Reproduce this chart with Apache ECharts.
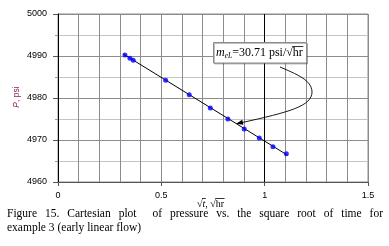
<!DOCTYPE html>
<html>
<head>
<meta charset="utf-8">
<style>html,body{margin:0;padding:0;background:#fff;}#c{width:389px;height:246px;}</style>
<script src="https://cdn.jsdelivr.net/npm/echarts@6/dist/echarts.min.js"></script>
</head>
<body>
<div id="c"></div>
<script>
// data
const sqrtT = [0.324, 0.348, 0.364, 0.521, 0.635, 0.737, 0.822, 0.901, 0.974, 1.040, 1.105];
const pressure = [4990.24, 4989.45, 4988.98, 4984.2, 4980.8, 4977.6, 4975.0, 4972.6, 4970.5, 4968.4, 4966.7];
const trendX = [0.315, 1.11];
const trendY = [4990.5, 4966.4];
const xTicks = [0, 0.5, 1, 1.5];
const yTicks = [4960, 4970, 4980, 4990, 5000];
const captionLine1 = "Figure 15. Cartesian plot  of pressure vs. the square root of time for";
const captionLine2 = "example 3 (early linear flow)";
const slopeText = "=30.71 psi/";

const serif = "'Liberation Serif','Times New Roman',serif";
const sans = "'Liberation Sans',Arial,sans-serif";
const cv = document.createElement('canvas').getContext('2d');
function tw(t, size, italic, fam) { cv.font = (italic ? 'italic ' : '') + size + 'px ' + (fam || "'Liberation Serif'"); return cv.measureText(t).width; }

const chart = echarts.init(document.getElementById('c'), null, {renderer: 'canvas'});
const graphics = [];

// x axis name: √t, √hr
(function () {
  let x = 197, y = 204, fs = 10;
  const parts = [['√', false, false], ['t', true, true], [', ', false, false], ['√', false, false], ['hr', false, true]];
  parts.forEach(p => {
    const w = tw(p[0], fs, p[1]);
    graphics.push({type: 'text', x: x, y: y, style: {text: p[0], font: (p[1] ? 'italic ' : '') + fs + 'px ' + serif, fill: '#000', verticalAlign: 'middle'}});
    if (p[2]) graphics.push({type: 'line', shape: {x1: x - 0.5, y1: y - 5.5, x2: x + w + 0.5, y2: y - 5.5}, style: {stroke: '#000', lineWidth: 0.8}});
    x += w;
  });
})();

// y axis name
graphics.push({type: 'text', x: 17, y: 97, rotation: Math.PI / 2, style: {
  text: '{p|P}{r|, psi}', align: 'center', verticalAlign: 'middle',
  rich: {p: {fontFamily: sans, fontStyle: 'italic', fontSize: 8.5, fill: '#8a2060'}, r: {fontFamily: sans, fontSize: 8.5, fill: '#8a2060'}}
}});

// annotation box
graphics.push({type: 'rect', shape: {x: 213.5, y: 42.5, width: 93, height: 20.5}, style: {fill: '#fff', stroke: '#8c8c8c', lineWidth: 1, shadowColor: 'rgba(0,0,0,0.25)', shadowOffsetX: 1, shadowOffsetY: 1, shadowBlur: 0}, z: 10});
(function () {
  let x = 216, yc = 53, fs = 12;
  const segs = [['m', fs, true, 0], ['eL', 7.5, true, 3], [slopeText, fs, false, 0], ['√', fs, false, 0], ['hr', fs, false, 0]];
  segs.forEach((s, i) => {
    const w = tw(s[0], s[1], s[2]);
    graphics.push({type: 'text', x: x, y: yc + s[3], z: 11, style: {text: s[0], font: (s[2] ? 'italic ' : '') + s[1] + 'px ' + serif, fill: '#000', verticalAlign: 'middle'}});
    if (i === 4) graphics.push({type: 'line', z: 11, shape: {x1: x - 0.5, y1: yc - 6.5, x2: x + w + 0.5, y2: yc - 6.5}, style: {stroke: '#000', lineWidth: 0.8}});
    x += w;
  });
})();

// curved arrow
graphics.push({type: 'bezierCurve', z: 9, shape: {x1: 280, y1: 67, cpx1: 296, cpy1: 74, cpx2: 312, cpy2: 80, x2: 312, y2: 92}, style: {fill: null, stroke: '#000', lineWidth: 0.9}});
graphics.push({type: 'bezierCurve', z: 9, shape: {x1: 312, y1: 92, cpx1: 312, cpy1: 106, cpx2: 290, cpy2: 112, x2: 240, y2: 123}, style: {fill: null, stroke: '#000', lineWidth: 0.9}});
(function () {
  const tip = [236, 123.8], d = [0.977, -0.214], L = 7, h = 2.6;
  const b = [tip[0] + d[0] * L, tip[1] + d[1] * L], p = [-d[1], d[0]];
  graphics.push({type: 'polygon', z: 9, shape: {points: [tip, [b[0] + p[0] * h, b[1] + p[1] * h], [b[0] - p[0] * h, b[1] - p[1] * h]]}, style: {fill: '#000'}});
})();

// caption, justified first line
(function () {
  const fs = 11.5, left = 7, right = 383;
  const words = captionLine1.split(' ');
  const ws = words.map(w => tw(w, fs, false));
  const sum = ws.reduce((a, b) => a + b, 0);
  const gap = (right - left - sum) / (words.length - 1);
  let x = left;
  words.forEach((w, i) => {
    if (w) graphics.push({type: 'text', x: x, y: 214, style: {text: w, font: fs + 'px ' + serif, fill: '#000', verticalAlign: 'middle'}});
    x += ws[i] + gap;
  });
  graphics.push({type: 'text', x: left, y: 228, style: {text: captionLine2, font: fs + 'px ' + serif, fill: '#000', verticalAlign: 'middle'}});
})();

const option = {
  animation: false,
  backgroundColor: '#fff',
  grid: {left: 58, right: 21, top: 14, bottom: 64, show: true, borderColor: '#8c8c8c', borderWidth: 1, backgroundColor: '#fff'},
  xAxis: {
    type: 'value', min: xTicks[0], max: xTicks[xTicks.length - 1], interval: 0.5,
    axisLine: {show: true, onZero: false, lineStyle: {color: '#555', width: 1}},
    axisTick: {show: true, inside: false, length: 4, lineStyle: {color: '#555'}},
    axisLabel: {margin: 9, fontFamily: sans, fontSize: 9, color: '#000', formatter: v => String(v)},
    splitLine: {show: true, lineStyle: {color: '#8c8c8c', width: 1}},
    minorTick: {show: false, splitNumber: 5},
    minorSplitLine: {show: true, lineStyle: {color: '#8c8c8c', width: 1}}
  },
  yAxis: {
    type: 'value', min: yTicks[0], max: yTicks[yTicks.length - 1], interval: 10,
    axisLine: {show: true, onZero: false, lineStyle: {color: '#000', width: 1}},
    axisTick: {show: true, inside: false, length: 5, lineStyle: {color: '#555'}},
    axisLabel: {margin: 11, fontFamily: sans, fontSize: 9, color: '#000', formatter: v => String(v)},
    splitLine: {show: true, lineStyle: {color: '#8c8c8c', width: 1}},
    minorTick: {show: true, splitNumber: 2, length: 3, lineStyle: {color: '#999'}},
    minorSplitLine: {show: true, lineStyle: {color: '#c4c4c4', width: 1}}
  },
  series: [
    {
      type: 'line', data: trendX.map((x, i) => [x, trendY[i]]), showSymbol: false, symbol: 'none',
      lineStyle: {color: '#000', width: 1}, z: 3, silent: true,
      markLine: {silent: true, symbol: 'none', label: {show: false}, lineStyle: {color: '#000', width: 1, type: 'solid'}, data: [{xAxis: 1}]}
    },
    {
      type: 'scatter', data: sqrtT.map((x, i) => [x, pressure[i]]), symbol: 'circle', symbolSize: 5,
      itemStyle: {color: '#0000ff'}, z: 4
    }
  ],
  graphic: graphics
};
chart.setOption(option);
</script>
</body>
</html>
